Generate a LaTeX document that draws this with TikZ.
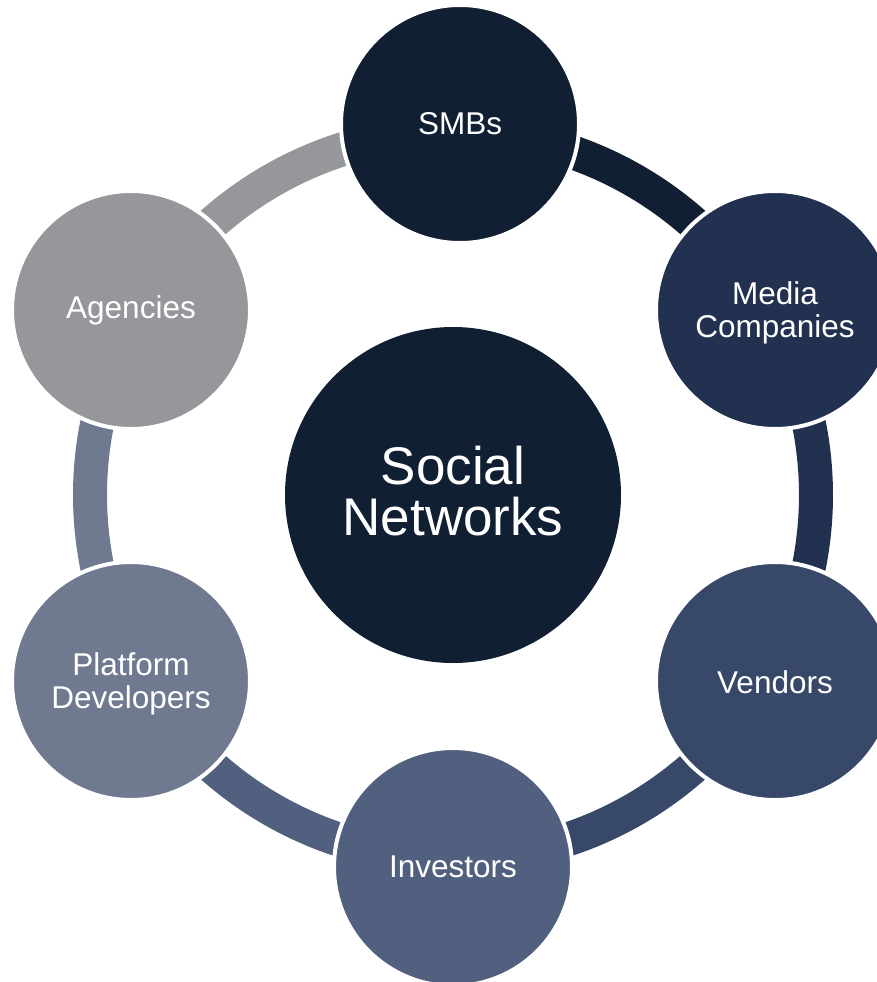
\documentclass[tikz,border=0pt]{standalone}
\usepackage{fontspec}
\setmainfont{Liberation Sans}
\definecolor{cSmb}{HTML}{111F33}
\definecolor{cMedia}{HTML}{22314F}
\definecolor{cVendor}{HTML}{374869}
\definecolor{cInvest}{HTML}{52607F}
\definecolor{cPlat}{HTML}{6F7A91}
\definecolor{cAgency}{HTML}{96979B}
\tikzset{
  ringseg/.style={line width=34pt},
  member/.style={circle, draw=white, line width=4pt, minimum size=238pt,
    inner sep=0pt, fill=#1},
  memberlabel/.style={text=white, align=center, inner sep=0pt,
    font=\fontsize{31.5pt}{33pt}\selectfont},
  hubnode/.style={circle, minimum size=336pt, inner sep=0pt, fill=cSmb},
  hublabel/.style={text=white, align=center, inner sep=0pt,
    font=\fontsize{53pt}{51pt}\selectfont},
}
\begin{document}
\begin{tikzpicture}[x=1pt, y=-1pt]
\clip (0,0) rectangle (877,982);
\fill[white] (0,0) rectangle (877,982);
\coordinate (ctr) at (453,495);
% ring segments, each coloured like the circle it leaves from
\draw[ringseg, cSmb]    ([shift={(-90:363)}]ctr)  arc[start angle=-90,  end angle=-30, radius=363];
\draw[ringseg, cMedia]  ([shift={(-30:363)}]ctr)  arc[start angle=-30,  end angle=30,  radius=363];
\draw[ringseg, cVendor] ([shift={(30:363)}]ctr)   arc[start angle=30,   end angle=90,  radius=363];
\draw[ringseg, cInvest] ([shift={(90:363)}]ctr)   arc[start angle=90,   end angle=150, radius=363];
\draw[ringseg, cPlat]   ([shift={(150:363)}]ctr)  arc[start angle=150,  end angle=210, radius=363];
\draw[ringseg, cAgency] ([shift={(210:363)}]ctr)  arc[start angle=210,  end angle=270, radius=363];
% outer circles
\node[member=cSmb]    (smb)    at (460,124) {};
\node[member=cMedia]  (media)  at (775,310) {};
\node[member=cVendor] (vendor) at (775,681) {};
\node[member=cInvest] (invest) at (453,867) {};
\node[member=cPlat]   (plat)   at (131,681) {};
\node[member=cAgency] (agency) at (131,310) {};
\node[memberlabel] (smbtext)    at (460,124) {SMBs};
\node[memberlabel] (mediatext)  at (775,313) {Media\\Companies};
\node[memberlabel] (vendortext) at (775,682) {Vendors};
\node[memberlabel] (investtext) at (453,867) {Investors};
\node[memberlabel] (plattext)   at (131,684) {Platform\\Developers};
\node[memberlabel] (agencytext) at (131,310) {Agencies};
% central hub
\node[hubnode] (hub) at (ctr) {};
\node[hublabel] (hubtext) at (453,491) {Social\\Networks};
\end{tikzpicture}
\end{document}
